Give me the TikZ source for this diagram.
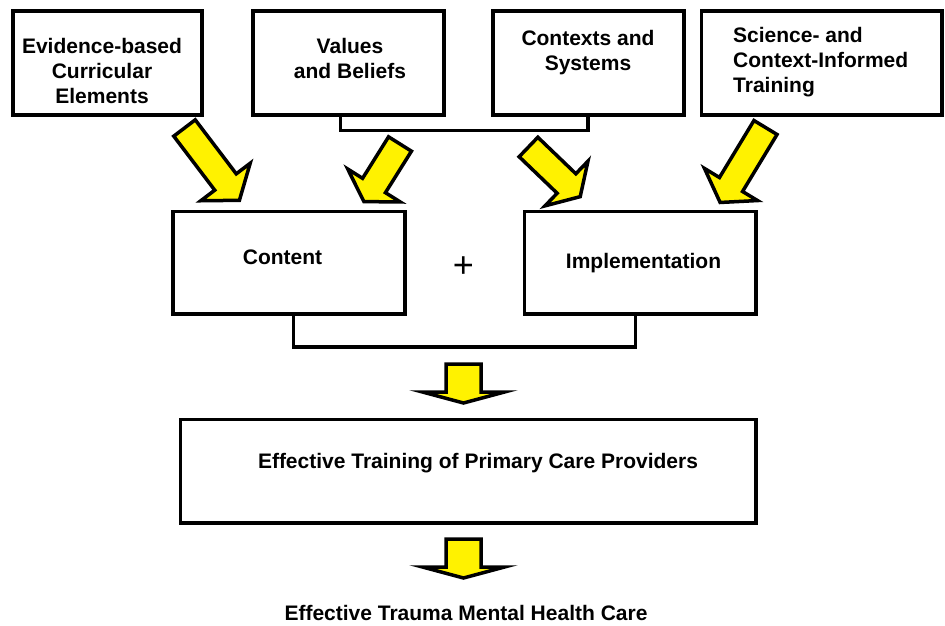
\documentclass[tikz,border=0pt]{standalone}
\usepackage{fontspec}
\setmainfont{Liberation Sans}
\usetikzlibrary{calc}
% block arrow: tail centre #1, head-base centre #2, half shaft #3, half head #4, head length #5
\newcommand{\yarrow}[5]{%
  \filldraw[yarrowstyle] ($(#1)!#3!90:(#2)$) -- ($(#2)!#3!-90:(#1)$) -- ($(#2)!#4!-90:(#1)$)
    -- ($(#2)!#5!180:(#1)$) -- ($(#2)!#4!90:(#1)$) -- ($(#2)!#3!90:(#1)$)
    -- ($(#1)!#3!-90:(#2)$) -- cycle;}
% vertical down arrow from top centre #1
\newcommand{\ydown}[1]{%
  \filldraw[yarrowstyle] ($(#1)+(-17.5,0)$) -- ($(#1)+(-17.5,28)$) -- ($(#1)+(-41,28)$)
    -- ($(#1)+(0,39)$) -- ($(#1)+(41,28)$) -- ($(#1)+(17.5,28)$) -- ($(#1)+(17.5,0)$) -- cycle;}
\begin{document}
\begin{tikzpicture}[x=1pt,y=-1pt,
  box/.style={draw, line width=3.6pt, rectangle, inner sep=0pt},
  lbl/.style={font=\bfseries\fontsize{21}{25}\selectfont, inner sep=0pt, align=center},
  yarrowstyle/.style={fill=yellow, draw=black, line width=3.5pt, line join=miter},
  bracket/.style={draw, line width=3.5pt}]
\useasboundingbox (0,0) rectangle (945,626);

% top boxes
\node[box, minimum width=189pt, minimum height=103.4pt] (b1) at (107.5,63) {};
\node[box, minimum width=190.7pt, minimum height=103.4pt] (b2) at (348.35,63) {};
\node[box, minimum width=191pt, minimum height=103.4pt] (b3) at (588.5,63) {};
\node[box, minimum width=240.7pt, minimum height=103.4pt] (b4) at (821.65,63) {};

\node[lbl, anchor=north] (t1) at (102,38) {Evidence-based\\Curricular\\Elements};
\node[lbl, anchor=north] (t2) at (350,38) {Values\\and Beliefs};
\node[lbl, anchor=north] (t3) at (588,30) {Contexts and\\Systems};
\node[lbl, anchor=north west, align=left] (t4) at (733,27) {Science- and\\Context-Informed\\Training};

% middle boxes
\node[box, minimum width=232pt, minimum height=102.4pt] (c) at (288.7,262.5) {};
\node[box, minimum width=231.7pt, minimum height=102.4pt] (i) at (640.15,262.5) {};
\node[lbl, anchor=base] (tc) at (282.5,264) {Content};
\node[lbl, anchor=base] (ti) at (643.5,268) {Implementation};
\node[font=\fontsize{36}{36}\selectfont, inner sep=0pt] (plus) at (463.3,267) {+};

% training box
\node[box, minimum width=575.7pt, minimum height=103.4pt] (t) at (468.15,471) {};
\node[lbl, anchor=base] (tt) at (478,468) {Effective Training of Primary Care Providers};

% final text
\node[lbl, anchor=base] (fin) at (466,620) {Effective Trauma Mental Health Care};

% brackets
\coordinate (br1) at (340.3,130.7);
\coordinate (br2) at (588,130.7);
\draw[bracket] (b2.south -| br1) -- (br1) -- (br2) -- (b3.south -| br2);
\coordinate (br3) at (293.7,347);
\coordinate (br4) at (635.3,347);
\draw[bracket] (c.south -| br3) -- (br3) -- (br4) -- (i.south -| br4);

% yellow block arrows
\coordinate (a1t) at (184.5,128);   \coordinate (a1m) at (225.5,182);
\coordinate (a2t) at (400,144);     \coordinate (a2m) at (374,185.5);
\coordinate (a3t) at (528.5,147);   \coordinate (a3m) at (566.5,183.5);
\coordinate (a4t) at (765.5,127.5); \coordinate (a4m) at (731,184.5);
\yarrow{a1t}{a1m}{13.5pt}{31pt}{23pt}
\yarrow{a2t}{a2m}{13.5pt}{31pt}{19pt}
\yarrow{a3t}{a3m}{13.5pt}{31pt}{19pt}
\yarrow{a4t}{a4m}{13.5pt}{31pt}{21pt}

\coordinate (d1) at (463.5,364);
\coordinate (d2) at (463.5,539);
\ydown{d1}
\ydown{d2}
\end{tikzpicture}
\end{document}
